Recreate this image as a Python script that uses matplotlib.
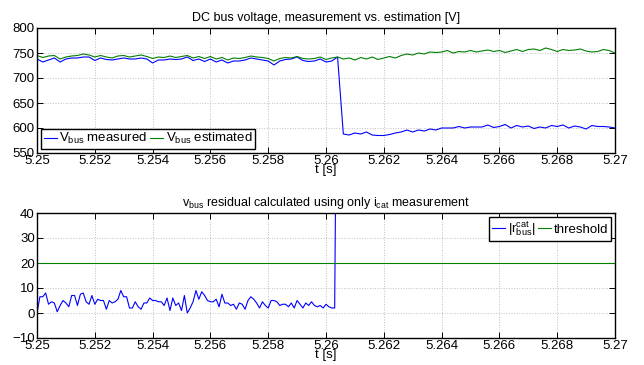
import matplotlib
matplotlib.use("Agg")
import matplotlib.pyplot as plt
import numpy as np

plt.rcParams['font.family'] = ['Liberation Sans', 'DejaVu Sans']
plt.rcParams['font.size'] = 9

# time axes
t_v = np.round(np.arange(5.25, 5.27 + 1e-9, 0.0002), 4)
t_r = np.round(np.arange(5.25, 5.2604 + 1e-9, 0.0001), 4)

v_measured = [
    738, 732, 736, 740, 732, 738, 740, 740, 742, 742,
    735, 740, 737, 736, 738, 740, 738, 738, 740, 738,
    730, 736, 736, 738, 737, 738, 742, 735, 738, 733,
    738, 732, 736, 730, 734, 734, 736, 740, 738, 736,
    734, 726, 734, 737, 738, 742, 735, 733, 734, 738,
    732, 734, 742,
    588, 586, 590, 588, 592, 586, 585, 585, 587, 590,
    592, 596, 592, 596, 594, 598, 596, 600, 600, 600,
    603, 600, 602, 602, 602, 606, 601, 603, 607, 600,
    605, 602, 604, 599, 602, 600, 605, 603, 606, 600,
    604, 602, 598, 605, 603, 603, 602, 600,
]
v_estimated = [
    745, 741, 744, 745, 738, 742, 744, 745, 748, 746,
    742, 745, 742, 740, 744, 745, 742, 744, 746, 743,
    739, 742, 741, 744, 741, 743, 745, 740, 743, 739,
    743, 738, 741, 736, 740, 739, 741, 744, 742, 741,
    739, 734, 739, 741, 740, 743, 739, 738, 739, 742,
    737, 740, 742,
    738, 740, 736, 741, 738, 742, 737, 740, 743, 740,
    745, 748, 746, 750, 748, 752, 751, 752, 755, 750,
    753, 752, 755, 752, 754, 756, 753, 755, 751, 754,
    757, 753, 757, 758, 755, 760, 757, 753, 757, 755,
    756, 758, 754, 752, 753, 757, 755, 750,
]
residual = [
    0, 6.5, 6.5, 8, 3.5, 4.5, 4, 0.5, 3, 5,
    4, 2.5, 7, 7, 3, 7.5, 8, 4.5, 3.5, 7,
    3.5, 5.5, 5, 5, 1.5, 5, 4, 4.5, 5.5, 9,
    6.5, 6.5, 2, 2, 4.5, 2.5, 1.5, 4, 4, 6,
    5, 5, 4.5, 4.5, 3, 6, 1, 6, 3, 4,
    1, 7, 0, 2, 4.5, 9, 5.5, 8.5, 7, 5,
    4.5, 4.5, 5.5, 2.5, 7.5, 4, 4, 3, 3.5, 1.5,
    4, 3.5, 1.5, 5, 6.5, 5.5, 4, 2, 4.5, 3,
    2, 5, 5, 4.5, 3, 3.5, 3.5, 2.5, 4, 2,
    5, 3.5, 2, 4, 3, 4.5, 3, 2.5, 3, 2,
    3.5, 2.5, 2, 2, 150,
]
threshold = 20

xticks = [5.25, 5.252, 5.254, 5.256, 5.258, 5.26, 5.262, 5.264, 5.266, 5.268, 5.27]
xticklabels = ['5.25', '5.252', '5.254', '5.256', '5.258', '5.26', '5.262', '5.264', '5.266', '5.268', '5.27']

blue = (0, 0, 1)
green = (0, 0.5, 0)

fig = plt.figure(figsize=(6.44, 3.65), dpi=100)
ax1 = fig.add_axes([37 / 644, 1 - 153 / 365, 578 / 644, 125 / 365])
ax2 = fig.add_axes([37 / 644, 1 - 338 / 365, 578 / 644, 125 / 365])


def style(ax):
    ax.set_xlim(5.25, 5.27)
    ax.set_xticks(xticks)
    ax.set_xticklabels(xticklabels)
    ax.grid(True, linestyle=':', color='#c0c0c0', linewidth=0.7)
    ax.tick_params(direction='in', top=True, right=True, length=4, width=0.7, pad=1.5, labelsize=9.5)
    for s in ax.spines.values():
        s.set_linewidth(1.0)


ax1.plot(t_v, v_measured, color=blue, lw=0.8, label=r'$\mathregular{V_{bus}}$ measured')
ax1.plot(t_v, v_estimated, color=green, lw=0.8, label=r'$\mathregular{V_{bus}}$ estimated')
style(ax1)
ax1.set_ylim(550, 800)
ax1.set_yticks([550, 600, 650, 700, 750, 800])
ax1.set_title('DC bus voltage, measurement vs. estimation [V]', fontsize=9, pad=5)
ax1.set_xlabel('t [s]', fontsize=9.5, labelpad=-2)
leg1 = ax1.legend(loc='lower left', ncol=2, fontsize=9.5, fancybox=False, framealpha=1,
                  edgecolor='black', handlelength=1.0, handletextpad=0.2, columnspacing=0.2,
                  borderpad=0.2, borderaxespad=0.3)
leg1.get_frame().set_linewidth(1.0)

ax2.plot(t_r, residual, color=blue, lw=0.8, label=r'$\mathregular{|r^{cat}_{bus}|}$')
ax2.axhline(threshold, color=green, lw=0.8, label='threshold')
style(ax2)
ax2.set_ylim(-10, 40)
ax2.set_yticks([-10, 0, 10, 20, 30, 40])
ax2.set_yticklabels(['\u221210', '0', '10', '20', '30', '40'])
ax2.set_title(r'$\mathregular{v_{bus}}$ residual calculated using only $\mathregular{i_{cat}}$ measurement',
              fontsize=9, pad=5)
ax2.set_xlabel('t [s]', fontsize=9.5, labelpad=-2)
leg2 = ax2.legend(loc='upper right', ncol=2, fontsize=9.5, fancybox=False, framealpha=1,
                  edgecolor='black', handlelength=1.0, handletextpad=0.2, columnspacing=0.2,
                  borderpad=0.2, borderaxespad=0.3)
leg2.get_frame().set_linewidth(1.0)

fig.savefig('out.png', dpi=100)
